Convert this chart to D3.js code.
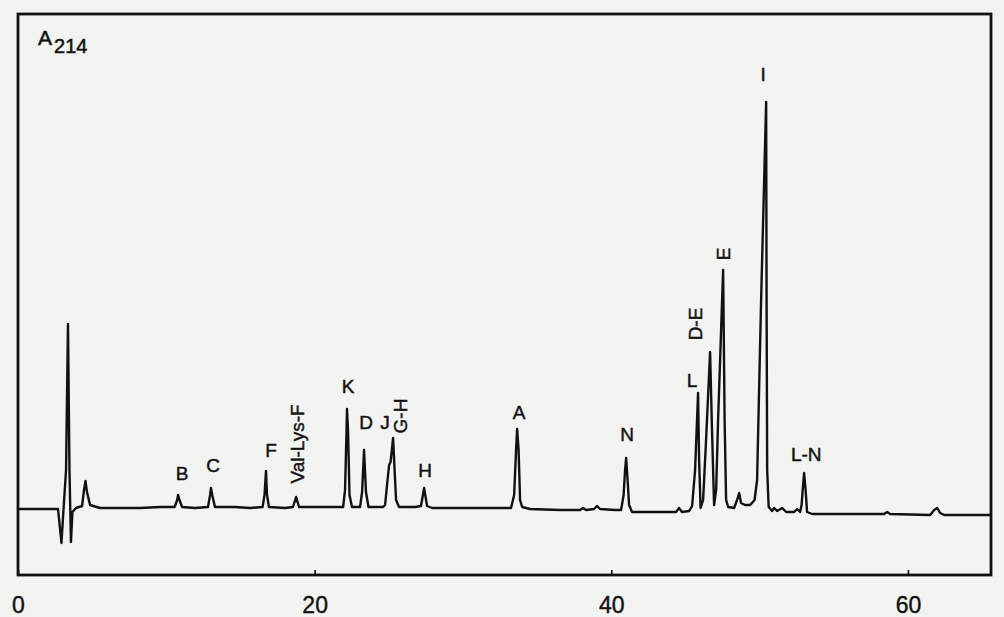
<!DOCTYPE html>
<html>
<head>
<meta charset="utf-8">
<script src="https://cdn.jsdelivr.net/npm/d3@7/dist/d3.min.js"></script>
<style>
  html, body { margin: 0; padding: 0; background: #f3f3f1; }
  svg { display: block; }
  text { font-family: "Liberation Sans", Arial, sans-serif; fill: #111; }
</style>
</head>
<body>
<script>
// ---- data ----
// retention time (min)
const traceTime = [0, 2.70, 2.93, 3.07, 3.24, 3.37, 3.47, 3.57, 3.67, 3.91, 4.32, 4.45, 4.55, 4.65, 4.86, 5.53, 8.23, 9.58,
  10.56, 10.73, 10.79, 10.89, 11.06, 11.94, 12.81, 12.95, 13.01, 13.11, 13.28, 14.63, 15.64,
  16.49, 16.62, 16.72, 16.79, 16.92, 18.00, 18.54, 18.75, 18.95, 20.36, 21.71,
  21.92, 22.05, 22.15, 22.18, 22.25, 22.35, 22.52, 23.06, 23.20, 23.33, 23.46, 23.63, 24.61,
  24.75, 24.88, 25.02, 25.12, 25.29, 25.39, 25.49, 25.69, 26.77, 27.17, 27.38, 27.58, 27.92, 30.48, 32.50,
  33.24, 33.45, 33.58, 33.65, 33.75, 33.85, 33.99, 34.52, 36.55, 37.90, 38.10, 38.30, 38.84, 39.04, 39.24, 40.26,
  40.66, 40.83, 40.93, 41.00, 41.10, 41.20, 41.40, 43.29, 44.37, 44.57, 44.77, 45.25,
  45.45, 45.65, 45.85, 45.92, 46.02, 46.19, 46.39, 46.66, 46.79, 46.93, 47.07, 47.20, 47.54, 47.64, 47.74, 47.88,
  48.28, 48.48, 48.62, 48.75, 49.02, 49.36, 49.66, 49.83, 50.10, 50.44, 50.47, 50.51, 50.61,
  50.84, 50.98, 51.18, 51.52, 51.79, 52.33, 52.53, 52.73, 52.83, 52.93, 53.00, 53.10, 53.20, 53.54,
  56.10, 58.39, 58.60, 58.80, 61.50, 61.77, 61.97, 62.17, 62.44, 65.6];
// absorbance at 214 nm (arbitrary units)
const traceSignal = [-0.25, -0.25, -8.75, -0.25, 9.5, 46, 9.5, -8.5, -1, 0, 0.5, 4.5, 6.75, 4, 0.75, 0, 0, 0.25,
  0.25, 2, 3.25, 2, 0.25, 0, 0.25, 3.25, 5, 3, 0.25, 0.25, 0,
  0.25, 3.25, 9.25, 3.25, 0.25, 0, 0.25, 2.75, 0.25, 0.25, 0.25,
  0.25, 4.5, 19.5, 24.75, 19.5, 3.25, 0.25, 0.25, 4, 14.5, 4, 0.25, 0.25,
  0.75, 5.75, 10.75, 11.5, 17.5, 9.5, 2, 0.25, 0.25, 0.5, 5, 0.5, 0, 0, 0,
  0, 3.25, 14.5, 19.75, 14.5, 2, 0.25, -0.25, -0.5, -0.5, 0, -0.5, -0.25, 0.5, -0.25, -0.5,
  -0.5, 3.25, 9.5, 12.5, 7, 0.75, -1, -1, -1, 0, -1, -0.75,
  0.5, 9.5, 28.75, 12, 0, 2, 17, 39, 19.5, 0.75, 4.5, 22, 59.5, 22, 2, 0.25,
  0, 2, 3.75, 1.25, 0.75, 0.75, 2, 7, 52, 101.5, 52, 9.5, 0.25,
  -0.75, 0, -0.75, 0, -1, -1, -0.25, -1, 0.75, 5.75, 8.75, 4.5, -1, -1.5,
  -1.5, -1.5, -1, -1.5, -1.75, -0.5, 0, -1.25, -1.75, -1.75];

// peak labels (text, time, signal at text centre, rotated?)
const labelText    = ["B", "C", "F", "Val-Lys-F", "K", "D", "J", "G-H", "H", "A", "N", "L", "D-E", "E", "I", "L-N"];
const labelTime    = [11.06, 13.15, 17.06, 18.81, 22.25, 23.47, 24.75, 25.76, 27.44, 33.78, 41.07, 45.45, 45.65, 47.54, 50.24, 53.14];
const labelSignal  = [8.75, 10.75, 14.5, 16, 30.5, 21.5, 21.5, 23, 9.5, 24, 18.5, 32, 46, 63.5, 108.5, 13.5];
const labelRotated = [false, false, false, true, false, false, false, true, false, false, false, false, true, true, false, false];

// axis
const xTicks = [0, 20, 40, 60];
const xDomain = [0, 65.6];
const yDomain = [-16.75, 123.5];
const detectorLabel = "A";
const detectorSub = "214";

// ---- drawing ----
const W = 1004, H = 617;
const svg = d3.select("body").append("svg").attr("width", W).attr("height", H);
svg.append("rect").attr("width", W).attr("height", H).attr("fill", "#f3f3f1");

const x = d3.scaleLinear().domain(xDomain).range([18, 991]);
const y = d3.scaleLinear().domain(yDomain).range([575, 14]);

// frame
svg.append("rect")
  .attr("x", x(xDomain[0])).attr("y", y(yDomain[1]))
  .attr("width", x(xDomain[1]) - x(xDomain[0]))
  .attr("height", y(yDomain[0]) - y(yDomain[1]))
  .attr("fill", "none").attr("stroke", "#111").attr("stroke-width", 2.8);

// x axis
const xAxis = d3.axisBottom(x).tickValues(xTicks).tickSize(-5).tickPadding(22).tickFormat(d3.format("d"));
const gx = svg.append("g").attr("transform", `translate(0,${y(yDomain[0])})`).call(xAxis);
gx.select(".domain").remove();
gx.selectAll(".tick line").attr("stroke", "#111").attr("stroke-width", 1.6);
gx.selectAll(".tick text").attr("font-size", 23).attr("fill", "#111")
  .attr("stroke", "#111").attr("stroke-width", 0.4)
  .style("font-family", "'Liberation Sans', Arial, sans-serif");

// trace
const pts = traceTime.map((t, i) => [t, traceSignal[i]]);
const line = d3.line().x(d => x(d[0])).y(d => y(d[1])).curve(d3.curveLinear);
svg.append("path").datum(pts).attr("d", line)
  .attr("fill", "none").attr("stroke", "#111").attr("stroke-width", 2.4)
  .attr("stroke-linejoin", "round").attr("stroke-linecap", "round");

// peak labels
const lab = svg.append("g");
labelText.forEach((s, i) => {
  const cx = x(labelTime[i]), cy = y(labelSignal[i]);
  const t = lab.append("text")
    .attr("font-size", 19)
    .attr("text-anchor", "middle")
    .attr("dy", "0.36em")
    .attr("stroke", "#111").attr("stroke-width", 0.45)
    .text(s);
  if (labelRotated[i]) {
    t.attr("transform", `translate(${cx},${cy}) rotate(-90)`);
  } else {
    t.attr("x", cx).attr("y", cy);
  }
});

// detector label A214
const det = svg.append("text").attr("x", 38).attr("y", 45).attr("font-size", 21)
  .attr("stroke", "#111").attr("stroke-width", 0.5);
det.append("tspan").text(detectorLabel);
det.append("tspan").attr("dx", 2).attr("dy", 8).attr("font-size", 20).text(detectorSub);
</script>
</body>
</html>
